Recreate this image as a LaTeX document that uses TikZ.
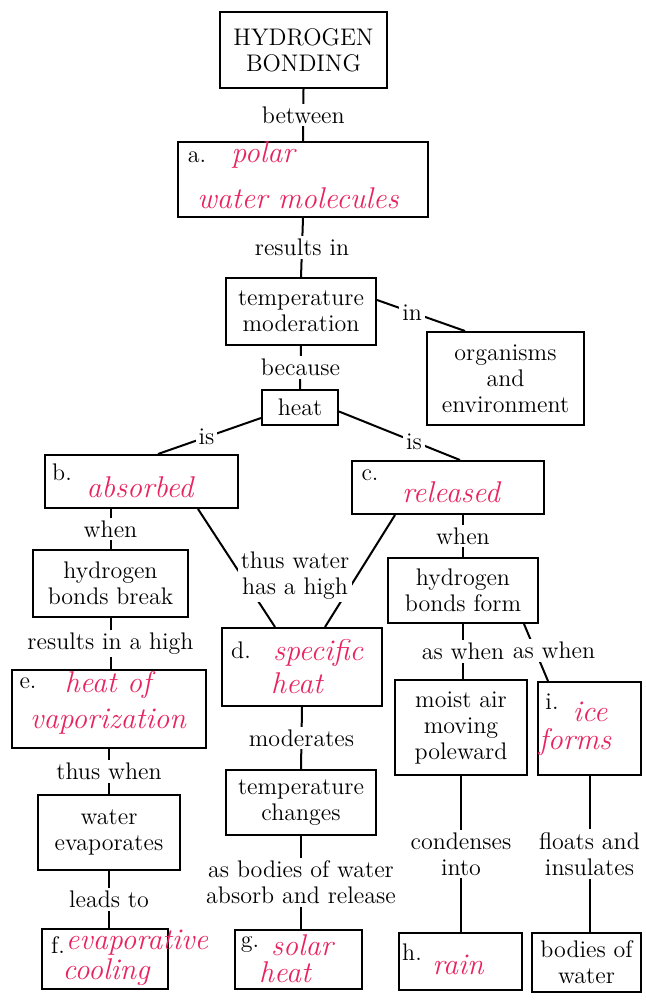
\documentclass[tikz,border=0pt]{standalone}
\usepackage{tikz}
\usetikzlibrary{calc}
\definecolor{inkpink}{RGB}{232,36,96}
\begin{document}
\begin{tikzpicture}[
  x=0.5pt, y=-0.5pt,
  every node/.style={font=\fontsize{12}{13}\selectfont},
  box/.style 2 args={rectangle, draw=black, line width=1pt, inner sep=0pt,
                     minimum width=#1*0.5pt, minimum height=#2*0.5pt, align=center},
  link/.style={line width=1pt},
  lbl/.style={fill=white, inner sep=1.5pt, align=center},
  tag/.style={inner sep=0pt},
  hand/.style={inner sep=0pt, text=inkpink, font=\fontsize{15}{15}\selectfont\itshape}
]
  \useasboundingbox (0,0) rectangle (646,1000);

  % centre column
  \node[box={167}{76}] (hb)   at (303.5,50)   {HYDROGEN\\BONDING};
  \node[box={250}{75}] (a)    at (303,179.5)  {};
  \node[box={150}{67}] (tm)   at (301,311.5)  {temperature\\moderation};
  \node[box={157}{93}] (org)  at (505.5,378.5) {organisms\\and\\environment};
  \node[box={76}{35}]  (heat) at (300,407.5)  {heat};
  \node[box={193}{53}] (b)    at (141.5,481.5) {};
  \node[box={192}{53}] (c)    at (448,487.5)  {};

  % left branch
  \node[box={155}{67}] (hbb)  at (110.5,583.5) {hydrogen\\bonds break};
  \node[box={194}{78}] (e)    at (109,709)    {};
  \node[box={142}{75}] (we)   at (109,832.5)  {water\\evaporates};
  \node[box={126}{60}] (f)    at (105,959)    {};

  % middle branch
  \node[box={160}{78}] (d)    at (302,667)    {};
  \node[box={150}{65}] (tc)   at (301,802.5)  {temperature\\changes};
  \node[box={127}{59}] (g)    at (298.5,959.5) {};

  % right branch
  \node[box={150}{65}] (hbf)  at (463,590.5)  {hydrogen\\bonds form};
  \node[box={132}{95}] (moist) at (461,727.5) {moist air\\moving\\poleward};
  \node[box={103}{93}] (i)    at (589.5,728.5) {};
  \node[box={123}{57}] (h)    at (460.5,961.5) {};
  \node[box={109}{59}] (bw)   at (586.5,962.5) {bodies of\\water};

  % letters and answers
  \node[tag]  (a-tag)  at (197,157) {a.};
  \node[hand] (a-ans1) at (263,155) {polar};
  \node[hand] (a-ans2) at (298,198) {water molecules};
  \node[tag]  (b-tag)  at (62,472)  {b.};
  \node[hand] (b-ans)  at (140,487) {absorbed};
  \node[tag]  (c-tag)  at (370,475) {c.};
  \node[hand] (c-ans)  at (451,492) {released};
  \node[tag]  (d-tag)  at (241,650) {d.};
  \node[hand] (d-ans1) at (318,653) {specific};
  \node[hand] (d-ans2) at (297,683) {heat};
  \node[tag]  (e-tag)  at (28,683)  {e.};
  \node[hand] (e-ans1) at (108,685) {heat of};
  \node[hand] (e-ans2) at (108,722) {vaporization};
  \node[tag]  (f-tag)  at (58,945)  {f.};
  \node[hand] (f-ans1) at (137,943) {evaporative};
  \node[hand] (f-ans2) at (106,972) {cooling};
  \node[tag]  (g-tag)  at (250,945) {g.};
  \node[hand] (g-ans1) at (302,945) {solar};
  \node[hand] (g-ans2) at (285,972) {heat};
  \node[tag]  (h-tag)  at (412,952) {h.};
  \node[hand] (h-ans)  at (458,965) {rain};
  \node[tag]  (i-tag)  at (552,702) {i.};
  \node[hand] (i-ans1) at (590,712) {ice};
  \node[hand] (i-ans2) at (575,742) {forms};

  % connectors
  \draw[link] (hb.south) -- node[lbl]{between} (a.north);
  \draw[link] (a.south) -- node[lbl]{results in} (tm.north);
  \draw[link] ([shift={(0,-11.5)}]tm.east) -- node[lbl,pos=0.4]{in} ([shift={(-40.5,0)}]org.north);
  \draw[link] (tm.south) -- node[lbl]{because} (heat.north);
  \draw[link] ([shift={(0,10.5)}]heat.west) -- node[lbl,pos=0.53]{is} ([shift={(16.5,0)}]b.north);
  \draw[link] ([shift={(0,4)}]heat.east) -- node[lbl,pos=0.62]{is} ([shift={(12,0)}]c.north);

  \draw[link] (b.south -| hbb.north) -- node[lbl]{when} (hbb.north);
  \draw[link] (hbb.south) -- node[lbl]{results in a high} (hbb.south |- e.north);
  \draw[link] (e.south) -- node[lbl]{thus when} (we.north);
  \draw[link] (we.south) -- node[lbl]{leads to} (we.south |- f.north);

  \draw[link] ([shift={(56.5,0)}]b.south) -- ([shift={(-27,0)}]d.north);
  \draw[link] ([shift={(-53,0)}]c.south) -- ([shift={(23,0)}]d.north);
  \node[lbl] (thus) at (295,575.5) {thus water\\has a high};
  \draw[link] (d.south) -- node[lbl]{moderates} (tc.north);
  \draw[link] (tc.south) -- node[lbl]{as bodies of water\\absorb and release} (tc.south |- g.north);

  \draw[link] (c.south -| hbf.north) -- node[lbl]{when} (hbf.north);
  \draw[link] (hbf.south) -- node[lbl]{as when} (hbf.south |- moist.north);
  \draw[link] ([shift={(61,0)}]hbf.south) -- node[lbl,pos=0.46,xshift=9.5pt]{as when} ([shift={(-41.5,0)}]i.north);
  \draw[link] (moist.south) -- node[lbl]{condenses\\into} (moist.south |- h.north);
  \draw[link] (i.south) -- node[lbl]{floats and\\insulates} (i.south |- bw.north);
\end{tikzpicture}
\end{document}
